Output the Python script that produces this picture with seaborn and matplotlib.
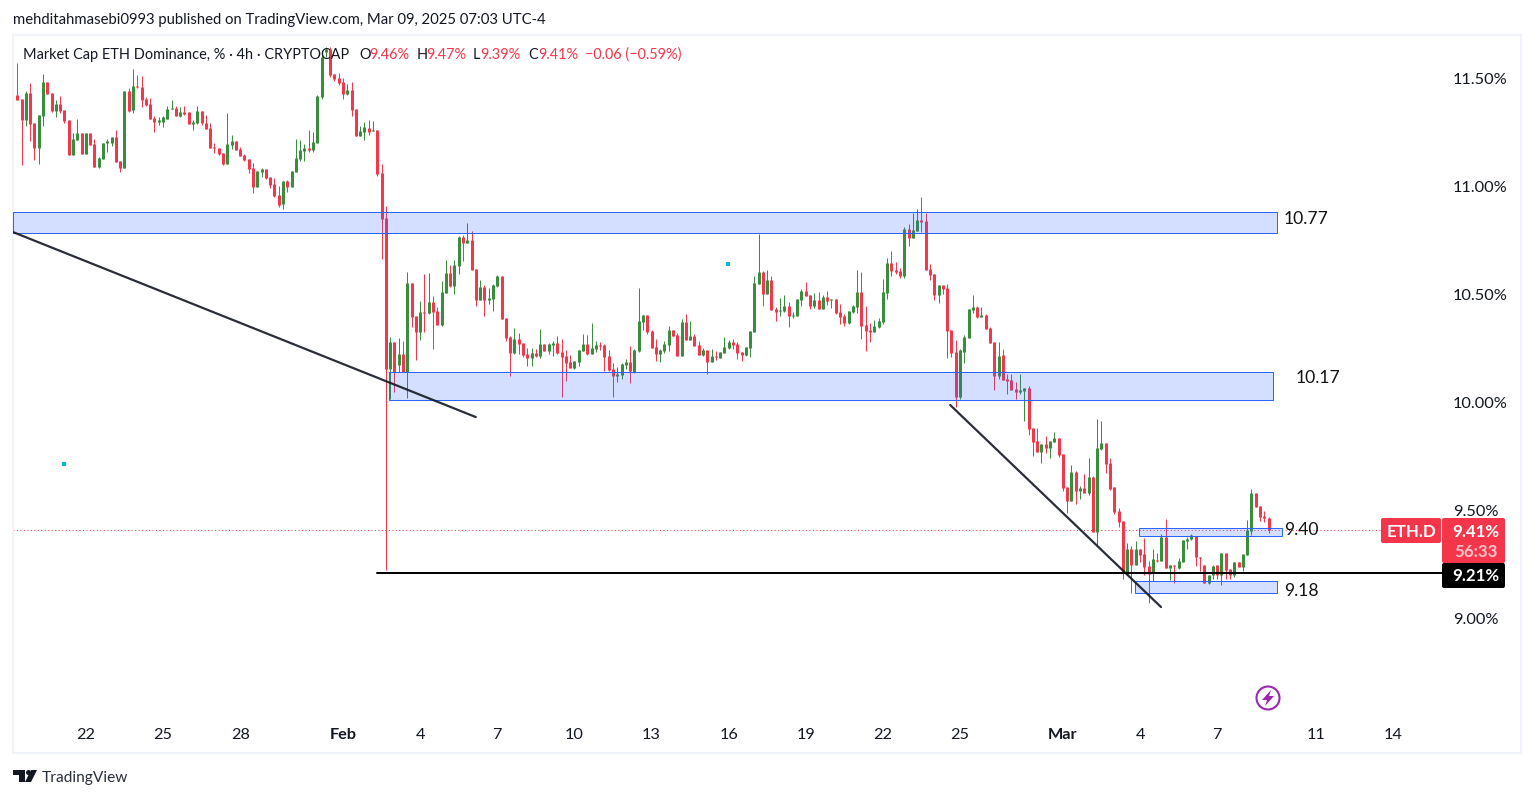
import matplotlib
matplotlib.use("Agg")
import matplotlib.pyplot as plt
import pandas as pd
import seaborn as sns
from matplotlib.patches import Circle, FancyBboxPatch, Polygon, Rectangle
from matplotlib.transforms import Affine2D

W, H = 1534, 798

directions = (
    "GRRGRRGGRR" "GRRRGGRGRR" "GGGGRRGRGR" "RRRRGGGGRG" "RRGGRRRRRR"
    "GGRRRRRGGR" "RRRGRGGGGR" "GGGGRRRRGR" "RGGRGRRRGR" "GRGRRGRGRR"
    "GGRGGRGRRG" "RGGGRRRGRR" "RGRGRGGRRR" "RGGGRGGRRR" "RGGGRGGGRR"
    "RGGGRRGRGR" "RGRGRGGGRR" "RGGGGRGRRG" "GRGGGRRGRG" "RGRRRGGGRR"
    "RGGGGRRRGR" "GGRRRRGRRR" "RGGGGRGRRR" "GRRRRGGRRR" "GRGGRRRGRG"
    "RGRGGRRRRR" "GRGRRRGRGR" "GRGGGGRRRG" "GRGRRGRGGG" "RRRR"
)

highs = [
    11.426,11.576,11.407,11.446,11.483,11.294,11.333,11.522,11.486,11.437,
    11.403,11.421,11.356,11.310,11.248,11.313,11.250,11.250,11.250,11.220,
    11.140,11.203,11.220,11.231,11.264,11.120,11.444,11.457,11.546,11.517,
    11.514,11.415,11.410,11.328,11.322,11.328,11.375,11.401,11.375,11.372,
    11.375,11.347,11.310,11.375,11.352,11.333,11.298,11.202,11.180,11.157,
    11.342,11.240,11.213,11.186,11.152,11.128,11.109,11.073,11.087,11.083,
    11.046,11.041,11.004,11.027,11.032,11.073,11.222,11.217,11.199,11.264,
    11.254,11.426,11.619,11.650,11.650,11.523,11.526,11.505,11.477,11.486,
    11.361,11.282,11.302,11.310,11.305,11.264,11.106,10.911,10.304,10.280,
    10.299,10.285,10.605,10.554,10.401,10.471,10.596,10.600,10.494,10.443,
    10.563,10.661,10.637,10.661,10.772,10.777,10.832,10.795,10.619,10.568,
    10.545,10.531,10.549,10.591,10.586,10.392,10.308,10.345,10.322,10.276,
    10.253,10.253,10.248,10.341,10.271,10.276,10.285,10.308,10.294,10.243,
    10.220,10.192,10.243,10.317,10.313,10.369,10.285,10.280,10.271,10.243,
    10.183,10.164,10.183,10.202,10.262,10.248,10.531,10.406,10.406,10.336,
    10.294,10.248,10.285,10.355,10.336,10.322,10.387,10.410,10.377,10.317,
    10.285,10.252,10.243,10.248,10.238,10.234,10.303,10.289,10.294,10.280,
    10.234,10.257,10.331,10.586,10.781,10.609,10.614,10.586,10.442,10.484,
    10.498,10.466,10.419,10.479,10.526,10.558,10.498,10.507,10.512,10.498,
    10.517,10.479,10.479,10.456,10.410,10.424,10.452,10.614,10.605,10.447,
    10.368,10.382,10.391,10.572,10.670,10.702,10.651,10.623,10.813,10.827,
    10.878,10.897,10.953,10.878,10.642,10.595,10.544,10.544,10.549,10.336,
    10.289,10.248,10.312,10.433,10.498,10.447,10.442,10.410,10.349,10.280,
    10.280,10.247,10.131,10.131,10.094,10.131,10.066,10.076,9.881,9.881,
    9.807,9.844,9.821,9.862,9.835,9.760,9.607,9.709,9.682,9.612,
    9.668,9.742,9.658,9.923,9.913,9.811,9.742,9.607,9.510,9.450,
    9.348,9.334,9.357,9.320,9.371,9.264,9.320,9.301,9.390,9.459,
    9.246,9.246,9.278,9.362,9.376,9.390,9.380,9.283,9.246,9.199,
    9.246,9.246,9.301,9.301,9.227,9.260,9.260,9.297,9.454,9.598,
    9.580,9.519,9.496,9.468,
]

body_tops = [
    11.150,11.426,11.407,11.437,11.437,11.294,11.333,11.486,11.486,11.437,
    11.384,11.384,11.356,11.310,11.222,11.250,11.250,11.250,11.250,11.200,
    11.135,11.203,11.213,11.231,11.231,11.120,11.444,11.444,11.468,11.468,
    11.463,11.406,11.384,11.321,11.310,11.322,11.361,11.366,11.366,11.347,
    11.347,11.347,11.302,11.352,11.352,11.298,11.273,11.183,11.180,11.157,
    11.199,11.213,11.213,11.175,11.148,11.128,11.087,11.073,11.083,11.083,
    11.046,11.013,10.962,11.027,11.027,11.073,11.134,11.171,11.180,11.180,
    11.208,11.421,11.604,11.638,11.638,11.523,11.505,11.486,11.449,11.449,
    11.361,11.259,11.276,11.273,11.264,11.264,11.064,10.856,10.280,10.280,
    10.225,10.225,10.554,10.554,10.401,10.420,10.420,10.466,10.466,10.424,
    10.512,10.600,10.600,10.637,10.769,10.769,10.753,10.753,10.619,10.535,
    10.535,10.484,10.545,10.586,10.586,10.392,10.304,10.294,10.294,10.276,
    10.225,10.229,10.229,10.271,10.271,10.271,10.276,10.276,10.234,10.215,
    10.188,10.192,10.243,10.271,10.271,10.253,10.266,10.266,10.266,10.215,
    10.155,10.132,10.178,10.188,10.188,10.243,10.378,10.406,10.406,10.331,
    10.257,10.243,10.271,10.336,10.336,10.312,10.373,10.373,10.308,10.308,
    10.266,10.243,10.243,10.215,10.215,10.234,10.257,10.280,10.280,10.271,
    10.234,10.257,10.331,10.554,10.605,10.605,10.568,10.568,10.433,10.428,
    10.447,10.447,10.405,10.479,10.517,10.517,10.498,10.475,10.475,10.489,
    10.489,10.479,10.479,10.419,10.401,10.424,10.447,10.512,10.512,10.359,
    10.336,10.354,10.377,10.512,10.646,10.646,10.614,10.609,10.804,10.804,
    10.799,10.846,10.846,10.841,10.619,10.595,10.544,10.544,10.530,10.336,
    10.234,10.243,10.303,10.433,10.442,10.442,10.405,10.405,10.345,10.280,
    10.215,10.219,10.108,10.104,10.062,10.057,10.066,10.066,9.881,9.821,
    9.807,9.807,9.821,9.835,9.835,9.760,9.607,9.677,9.677,9.603,
    9.603,9.654,9.654,9.788,9.811,9.811,9.719,9.607,9.496,9.450,
    9.320,9.320,9.320,9.320,9.297,9.241,9.273,9.269,9.376,9.376,
    9.246,9.246,9.264,9.362,9.366,9.385,9.380,9.283,9.246,9.199,
    9.241,9.246,9.301,9.301,9.227,9.260,9.260,9.297,9.408,9.580,
    9.580,9.519,9.473,9.464,
]

body_bottoms = [
    11.150,11.403,11.310,11.310,11.291,11.180,11.180,11.328,11.431,11.350,
    11.350,11.350,11.304,11.149,11.148,11.217,11.152,11.152,11.196,11.093,
    11.092,11.129,11.202,11.203,11.115,11.087,11.087,11.353,11.356,11.463,
    11.403,11.378,11.315,11.301,11.301,11.302,11.315,11.362,11.328,11.327,
    11.339,11.291,11.291,11.294,11.294,11.268,11.180,11.180,11.152,11.106,
    11.106,11.194,11.171,11.143,11.124,11.083,10.999,10.999,11.069,11.041,
    11.008,10.957,10.916,10.920,11.001,10.999,11.069,11.129,11.165,11.171,
    11.171,11.203,11.417,11.625,11.519,11.500,11.482,11.431,11.431,11.356,
    11.236,11.236,11.254,11.254,11.260,11.059,10.851,10.155,10.155,10.141,
    10.174,10.141,10.141,10.396,10.327,10.327,10.416,10.415,10.420,10.359,
    10.359,10.508,10.540,10.540,10.633,10.740,10.740,10.614,10.475,10.475,
    10.475,10.475,10.480,10.540,10.387,10.299,10.229,10.229,10.271,10.220,
    10.206,10.206,10.215,10.215,10.239,10.239,10.266,10.229,10.211,10.183,
    10.160,10.160,10.188,10.239,10.225,10.225,10.248,10.263,10.211,10.151,
    10.123,10.123,10.127,10.174,10.146,10.141,10.239,10.373,10.327,10.253,
    10.225,10.225,10.239,10.266,10.308,10.215,10.215,10.289,10.289,10.261,
    10.220,10.220,10.187,10.187,10.212,10.206,10.229,10.252,10.266,10.229,
    10.220,10.220,10.252,10.326,10.549,10.503,10.503,10.428,10.419,10.425,
    10.424,10.401,10.401,10.401,10.475,10.493,10.447,10.447,10.433,10.433,
    10.470,10.476,10.415,10.396,10.368,10.368,10.419,10.442,10.354,10.331,
    10.326,10.326,10.350,10.373,10.507,10.609,10.605,10.586,10.586,10.762,
    10.762,10.795,10.837,10.614,10.591,10.498,10.498,10.526,10.331,10.229,
    10.025,10.025,10.233,10.298,10.428,10.396,10.396,10.340,10.275,10.122,
    10.122,10.104,10.099,10.057,10.048,10.048,10.053,9.876,9.816,9.770,
    9.770,9.788,9.788,9.816,9.756,9.603,9.542,9.542,9.589,9.589,
    9.579,9.579,9.399,9.399,9.784,9.714,9.598,9.491,9.445,9.208,
    9.204,9.245,9.245,9.292,9.236,9.204,9.208,9.264,9.264,9.232,
    9.232,9.241,9.232,9.260,9.357,9.366,9.283,9.278,9.162,9.162,
    9.199,9.199,9.199,9.223,9.199,9.199,9.236,9.236,9.292,9.403,
    9.515,9.468,9.464,9.408,
]

lows = [
    10.831,11.403,11.101,11.282,11.214,11.124,11.106,11.282,11.431,11.347,
    11.322,11.344,11.294,11.149,11.148,11.217,11.152,11.152,11.196,11.092,
    11.087,11.129,11.162,11.189,11.115,11.069,11.087,11.347,11.344,11.458,
    11.372,11.375,11.315,11.254,11.287,11.279,11.315,11.362,11.328,11.324,
    11.335,11.291,11.264,11.291,11.287,11.267,11.180,11.158,11.148,11.100,
    11.106,11.174,11.171,11.143,11.121,11.066,10.971,10.999,11.047,11.038,
    10.993,10.953,10.906,10.897,10.976,10.999,11.069,11.118,11.121,11.163,
    11.162,11.203,11.407,11.604,11.511,11.492,11.472,11.406,11.426,11.328,
    11.236,11.236,11.217,11.240,11.260,11.050,10.665,9.223,10.016,10.048,
    10.141,10.141,10.021,10.350,10.197,10.290,10.327,10.410,10.248,10.359,
    10.355,10.508,10.535,10.503,10.596,10.656,10.740,10.614,10.447,10.475,
    10.401,10.457,10.424,10.535,10.387,10.285,10.123,10.225,10.225,10.211,
    10.169,10.169,10.211,10.206,10.239,10.225,10.215,10.225,10.025,10.099,
    10.160,10.155,10.169,10.239,10.220,10.225,10.234,10.243,10.146,10.146,
    10.025,10.095,10.109,10.155,10.090,10.137,10.234,10.336,10.317,10.253,
    10.192,10.188,10.229,10.238,10.308,10.215,10.215,10.289,10.289,10.261,
    10.220,10.215,10.132,10.187,10.197,10.206,10.229,10.248,10.248,10.201,
    10.192,10.215,10.210,10.326,10.549,10.447,10.503,10.428,10.377,10.401,
    10.419,10.350,10.391,10.401,10.447,10.493,10.433,10.438,10.433,10.433,
    10.452,10.438,10.410,10.363,10.354,10.363,10.415,10.415,10.294,10.238,
    10.280,10.326,10.345,10.363,10.479,10.586,10.595,10.577,10.577,10.725,
    10.762,10.795,10.790,10.614,10.568,10.475,10.461,10.503,10.206,10.210,
    9.979,10.016,10.182,10.298,10.414,10.391,10.396,10.340,10.275,10.057,
    10.108,10.104,10.039,10.057,10.015,10.039,9.913,9.848,9.751,9.770,
    9.719,9.765,9.742,9.816,9.746,9.589,9.487,9.542,9.528,9.552,
    9.579,9.570,9.399,9.338,9.779,9.672,9.593,9.482,9.422,9.181,
    9.199,9.116,9.245,9.259,9.199,9.069,9.171,9.259,9.264,9.232,
    9.176,9.162,9.227,9.260,9.320,9.362,9.241,9.218,9.162,9.158,
    9.181,9.181,9.153,9.181,9.181,9.190,9.236,9.218,9.292,9.385,
    9.515,9.450,9.445,9.394,
]

x_ticks = [17, 35, 53, 77, 95, 113, 131, 149, 167, 185, 203, 221, 245, 263, 281, 304, 322]
x_labels = ["22", "25", "28", "Feb", "4", "7", "10", "13", "16", "19", "22", "25", "Mar", "4", "7", "11", "14"]
y_ticks = [9.0, 9.5, 10.0, 10.5, 11.0, 11.5]
y_labels = ["9.00%", "9.50%", "10.00%", "10.50%", "11.00%", "11.50%"]

# zones: start candle, end candle, upper price, lower price
zone_starts = [0, 87.7, 262.8, 261.9]
zone_ends = [295, 294, 296.2, 295]
zone_uppers = [10.883, 10.141, 9.417, 9.172]
zone_lowers = [10.786, 10.011, 9.380, 9.116]

trend_a = ([0, 108], [10.790, 9.932])
trend_b = ([218.7, 267.9], [9.988, 9.051])
support_start, support_end, support_price = 85, 333.5, 9.21
last_price = 9.41
dots_x = [166.9, 11.9]
dots_y = [10.642, 9.714]

RED = "#f5364a"
GREEN = "#388e3c"
INK = "#131722"
BLUE = "#2962ff"
palette = {"G": GREEN, "R": RED}

sns.set_theme(style="white")
plt.rcParams["font.family"] = ["Lato", "DejaVu Sans"]

fig = plt.figure(figsize=(W / 100, H / 100), dpi=100, facecolor="white")
ax = fig.add_axes([13 / W, 1 - 753 / H, (1521 - 13) / W, (753 - 35) / H])

n = len(directions)
ids = list(range(n))
dirs = list(directions)
wicks = pd.concat([
    pd.DataFrame({"candle": ids, "price": highs, "dir": dirs}),
    pd.DataFrame({"candle": ids, "price": lows, "dir": dirs}),
])
bodies = pd.concat([
    pd.DataFrame({"candle": ids, "price": body_tops, "dir": dirs}),
    pd.DataFrame({"candle": ids, "price": body_bottoms, "dir": dirs}),
])

# widths a hair under 1 and 3 px so the lines snap to whole pixels
sns.lineplot(data=wicks, x="candle", y="price", hue="dir", units="candle", estimator=None,
             palette=palette, legend=False, sort=False, linewidth=0.715, ax=ax, solid_capstyle="butt")
sns.lineplot(data=bodies, x="candle", y="price", hue="dir", units="candle", estimator=None,
             palette=palette, legend=False, sort=False, linewidth=2.15, ax=ax, solid_capstyle="butt")

for start, end, upper, lower in zip(zone_starts, zone_ends, zone_uppers, zone_lowers):
    ax.add_patch(Rectangle((start, lower), end - start, upper - lower, facecolor=(0.16, 0.38, 1, 0.2),
                           edgecolor=BLUE, linewidth=0.715, zorder=5))

ax.plot(*trend_a, color=INK, linewidth=1.6, alpha=0.9, zorder=6)
ax.plot(*trend_b, color=INK, linewidth=1.6, alpha=0.9, zorder=6)
ax.plot([support_start, support_end], [support_price, support_price], color="black", linewidth=1.43, zorder=6)
ax.axhline(last_price, xmax=333.5 / 351.9, color=RED, linewidth=0.715, linestyle=(0, (1, 2.5)), zorder=1)
ax.scatter(dots_x, dots_y, s=5, color="#00bcd4", marker="s", linewidths=0, zorder=6)

ax.set_xlim(0, 351.9)
ax.set_ylim(8.374, 11.704)
ax.set_xlabel("")
ax.set_ylabel("")
ax.set_xticks(x_ticks)
ax.set_xticklabels(x_labels)
ax.set_yticks(y_ticks)
ax.set_yticklabels(y_labels)
ax.yaxis.tick_right()
ax.tick_params(axis="x", length=0, pad=-18.2, labelsize=11.7, labelcolor=INK)
ax.tick_params(axis="y", length=0, pad=-49, labelsize=11.8, labelcolor=INK)
for lab in ax.get_xticklabels():
    if lab.get_text() in ("Feb", "Mar"):
        lab.set_fontweight("bold")
for spine in ax.spines.values():
    spine.set_color("#f0f3fa")
    spine.set_linewidth(1.5)

# everything below is placed in image pixels
px = Affine2D().scale(1, -1).translate(0, H)


def label(x, y, text, color=INK, size=10.45, **kw):
    fig.text(x, y, text, transform=px, color=color, fontsize=size, va="center", **kw)


label(13, 20, "mehditahmasebi0993 published on TradingView.com, Mar 09, 2025 07:03 UTC-4", size=10.76)
label(23, 55, "Market Cap ETH Dominance, % \u00b7 4h \u00b7 CRYPTOCAP")
for x, text, color in [(359, "O", INK), (369, "9.46%", RED), (416.5, "H", INK), (426, "9.47%", RED),
                       (473, "L", INK), (480, "9.39%", RED), (528, "C", INK), (538, "9.41%", RED),
                       (585, "\u22120.06 (\u22120.59%)", RED)]:
    label(x, 55, text, color=color)

label(1284, 219, "10.77", size=12.6, color="#111111")
label(1296, 378, "10.17", size=12.6, color="#111111")
label(1284, 530, "9.40", size=12.6, color="#111111")
label(1284, 591, "9.18", size=12.6, color="#111111")


def box(x0, y0, x1, y1, color):
    fig.add_artist(FancyBboxPatch((x0 + 2, y0 + 2), x1 - x0 - 4, y1 - y0 - 4, boxstyle="round,pad=2,rounding_size=2",
                                  transform=px, facecolor=color, edgecolor="none", zorder=8))


box(1381, 518, 1441, 543, RED)
box(1442, 518, 1505, 563, RED)
box(1442, 563, 1505, 588, "black")
for x, y, text, color in [(1411, 532, "ETH.D", "white"), (1476, 532, "9.41%", "white"),
                          (1476, 552, "56:33", "#ffc4cb"), (1476, 576, "9.21%", "white")]:
    fig.text(x, y, text, transform=px, color=color, fontsize=12.2, fontweight="bold", ha="center", va="center", zorder=9)

fig.add_artist(Circle((1268, 698), 11.5, transform=px, facecolor="white", edgecolor="#9c27b0", linewidth=1.5, zorder=8))
fig.add_artist(Polygon([(1271, 690), (1262, 700), (1267, 700), (1265, 706), (1274, 696), (1269, 696)], closed=True,
                       transform=px, facecolor="#9c27b0", edgecolor="none", zorder=9))

# logo
fig.add_artist(Polygon([(13, 770), (25, 770), (25, 782), (19, 782), (19, 775), (13, 775)], closed=True, transform=px,
                       facecolor=INK, edgecolor="none"))
fig.add_artist(Circle((28.5, 772.5), 2.5, transform=px, facecolor=INK, edgecolor="none"))
fig.add_artist(Polygon([(31, 770), (37, 770), (31, 782), (25, 782)], closed=True, transform=px,
                       facecolor=INK, edgecolor="none"))
label(42, 778, "TradingView", size=11.2, color="#2a2e39")

fig.savefig("out.png", dpi=100)
